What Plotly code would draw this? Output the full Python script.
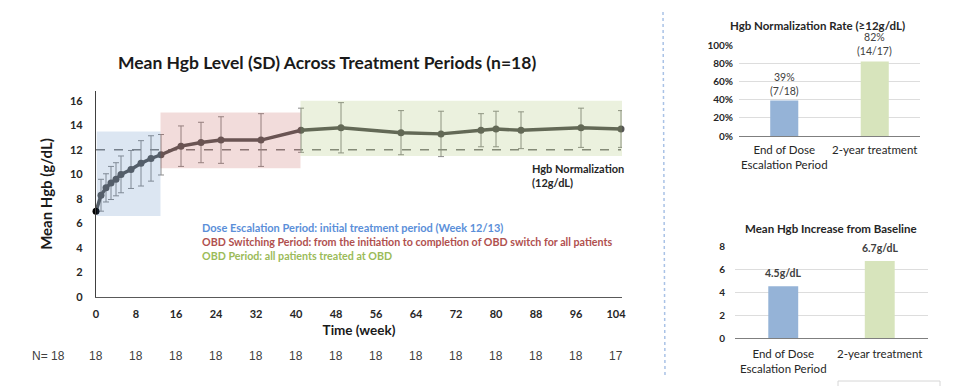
import plotly.graph_objects as go

W, H = 960, 386
FONT = "Lato"
OFF = 8  # page body margin offset

# ---------------- data ----------------
weeks = [0, 1, 2, 3, 4, 5, 7, 9, 11, 13, 17, 21, 25, 33, 41, 49, 61, 69, 77, 80, 85, 97, 105]
hgb_mean = [7.0, 8.3, 8.9, 9.3, 9.6, 10.0, 10.4, 10.9, 11.3, 11.6, 12.3, 12.6, 12.8, 12.8,
            13.6, 13.8, 13.4, 13.3, 13.6, 13.7, 13.6, 13.8, 13.7]
hgb_sd = [0.0, 1.3, 1.15, 1.35, 1.35, 1.5, 1.55, 1.85, 1.85, 1.65, 1.65, 1.65, 1.9, 2.15,
          1.8, 2.05, 1.8, 1.85, 1.35, 1.45, 1.5, 1.6, 1.5]
x_ticks = [0, 8, 16, 24, 32, 40, 48, 56, 64, 72, 80, 88, 96, 104]
n_patients = [18, 18, 18, 18, 18, 18, 18, 18, 18, 18, 18, 18, 18, 17]
normal_level = 12

period_names = ["Dose Escalation Period", "OBD Switching Period", "OBD Period"]
period_x0 = [0.15, 12.9, 40.9]
period_x1 = [12.9, 40.9, 105.9]
period_y0 = [6.6, 10.5, 11.5]
period_y1 = [13.5, 15.05, 16.0]
period_desc = ["Dose Escalation Period: initial treatment period (Week 12/13)",
               "OBD Switching Period: from the initiation to completion of OBD switch for all patients",
               "OBD Period: all patients treated at OBD"]

bar_cats = ["End of Dose<br>Escalation Period", "2-year treatment"]
norm_rate = [39, 82]
norm_labels = ["39%<br>(7/18)", "82%<br>(14/17)"]
increase = [4.5, 6.7]
increase_labels = ["4.5g/dL", "6.7g/dL"]

# ---------------- styles ----------------
period_fill = ["rgba(79,129,189,0.2)", "rgba(192,80,77,0.2)", "rgba(155,187,89,0.2)"]
period_text = ["#5B8FD9", "#B0504E", "#9BBB59"]
bar_colors = ["#95B3D7", "#D7E4BC"]


def px(x):
    return (x - OFF) / W


def py(y):
    return 1 - (y - OFF) / H


fig = go.Figure()

# normalization reference line
fig.add_trace(go.Scatter(x=[0, 105], y=[normal_level, normal_level], mode="lines",
                         line=dict(color="#7F7F7F", width=1.5, dash="dash"),
                         hoverinfo="skip", showlegend=False, xaxis="x", yaxis="y"))

# mean Hgb line with SD error bars
fig.add_trace(go.Scatter(
    x=weeks, y=hgb_mean, mode="lines+markers",
    line=dict(color="#555555", width=3.4),
    marker=dict(size=7, color=["#000000"] + ["#555555"] * (len(weeks) - 1)),
    error_y=dict(type="data", array=hgb_sd, visible=True, color="#8C8C8C",
                 thickness=1, width=3),
    showlegend=False, xaxis="x", yaxis="y", cliponaxis=False))

# right-top bar chart
fig.add_trace(go.Bar(x=bar_cats, y=norm_rate, marker=dict(color=bar_colors, line=dict(width=0)),
                     showlegend=False, xaxis="x2", yaxis="y2"))
# right-bottom bar chart
fig.add_trace(go.Bar(x=bar_cats, y=increase, marker=dict(color=bar_colors, line=dict(width=0)),
                     showlegend=False, xaxis="x3", yaxis="y3"))

shapes = []
for i in range(3):
    shapes.append(dict(type="rect", xref="x", yref="y", x0=period_x0[i], x1=period_x1[i],
                       y0=period_y0[i], y1=period_y1[i], fillcolor=period_fill[i],
                       line=dict(width=0), layer="above"))
# divider
shapes.append(dict(type="line", xref="paper", yref="paper", x0=px(663), x1=px(665),
                   y0=py(12), y1=py(377), line=dict(color="#A9C2E6", width=1.5, dash="dot")))
# small box bottom-right
shapes.append(dict(type="rect", xref="paper", yref="paper", x0=px(838), x1=px(940),
                   y0=py(381), y1=py(392), line=dict(color="#D6D6D6", width=1),
                   fillcolor="rgba(0,0,0,0)"))

ann = []
ann.append(dict(text="Mean Hgb Level (SD) Across Treatment Periods (n=18)", x=px(327), y=py(62),
                xref="paper", yref="paper", showarrow=False, xanchor="center", yanchor="middle",
                font=dict(family=FONT, size=17.5, color="#1a1a1a", weight=700)))
desc_sizes = [11, 10.7, 10.7]
for i in range(3):
    ann.append(dict(text=period_desc[i], x=px(200), y=py(227 + 14.5 * i), xref="paper", yref="paper",
                    showarrow=False, xanchor="left", yanchor="middle",
                    font=dict(family=FONT, size=desc_sizes[i], color=period_text[i], weight=700)))
ann.append(dict(text="Hgb Normalization<br>(12g/dL)", x=px(530), y=py(175), xref="paper",
                yref="paper", showarrow=False, xanchor="left", yanchor="middle", align="left",
                font=dict(family=FONT, size=11, color="#262626", weight=700)))
# N row
ann.append(dict(text="N= 18", x=px(48), y=py(356), xref="paper", yref="paper", showarrow=False,
                xanchor="center", yanchor="middle",
                font=dict(family="Liberation Sans", size=12, color="#404040")))
for t, n in zip(x_ticks, n_patients):
    ann.append(dict(text=str(n), x=t, y=py(356), xref="x", yref="paper", showarrow=False,
                    xanchor="center", yanchor="middle",
                    font=dict(family="Liberation Sans", size=12, color="#404040")))
# right chart titles
ann.append(dict(text="Hgb Normalization Rate (≥12g/dL)", x=px(817), y=py(26), xref="paper",
                yref="paper", showarrow=False, xanchor="center", yanchor="middle",
                font=dict(family=FONT, size=11.5, color="#262626", weight=700)))
ann.append(dict(text="Mean Hgb Increase from Baseline", x=px(831), y=py(228), xref="paper",
                yref="paper", showarrow=False, xanchor="center", yanchor="middle",
                font=dict(family=FONT, size=11.5, color="#262626", weight=700)))
for c, v, lab in zip(bar_cats, norm_rate, norm_labels):
    ann.append(dict(text=lab, x=c, y=v, xref="x2", yref="y2", showarrow=False, xanchor="center",
                    yanchor="bottom", yshift=2,
                    font=dict(family=FONT, size=10.5, color="#404040")))
for c, v, lab in zip(bar_cats, increase, increase_labels):
    ann.append(dict(text=lab, x=c, y=v, xref="x3", yref="y3", showarrow=False, xanchor="center",
                    yanchor="bottom", yshift=5,
                    font=dict(family=FONT, size=10.5, color="#404040", weight=700)))

tickfont_b = dict(family=FONT, size=11, color="#262626", weight=700)

fig.update_layout(
    width=W, height=H, margin=dict(l=0, r=0, t=0, b=0, autoexpand=False),
    paper_bgcolor="white", plot_bgcolor="white", showlegend=False,
    shapes=shapes, annotations=ann, bargap=0.69,
    xaxis=dict(domain=[px(96), px(622)], range=[0, 105.2], tickvals=x_ticks, automargin=False,
               showline=True, linecolor="#595959", linewidth=1.2, showgrid=False, zeroline=False,
               ticks="", tickfont=tickfont_b, ticklabelstandoff=7,
               title=dict(text="Time (week)", font=dict(family=FONT, size=13.5, color="#1a1a1a", weight=700),
                          standoff=6),
               anchor="y"),
    yaxis=dict(domain=[py(297), py(91)], range=[0, 16.8], dtick=2, showline=True, automargin=False,
               linecolor="#404040", linewidth=1.2, showgrid=False, zeroline=False, ticks="",
               tickfont=tickfont_b, ticklabelstandoff=10,
               title=dict(text="Mean Hgb (g/dL)", font=dict(family=FONT, size=15, color="#1a1a1a", weight=700),
                          standoff=13),
               anchor="x"),
    xaxis2=dict(domain=[px(739), px(920)], showline=True, linecolor="#7F7F7F", linewidth=1.2,
                showgrid=False, ticks="", anchor="y2", automargin=False, ticklabelstandoff=3,
                tickfont=dict(family=FONT, size=11.5, color="#262626")),
    yaxis2=dict(domain=[py(136), py(45)], range=[0, 100], dtick=20, ticksuffix="%",
                showgrid=True, gridcolor="#DDDDDD", gridwidth=1, zeroline=False, showline=False,
                ticks="", anchor="x2", ticklabelstandoff=5, automargin=False,
                tickfont=dict(family=FONT, size=10, color="#262626", weight=700)),
    xaxis3=dict(domain=[px(735), px(928)], showline=True, linecolor="#7F7F7F", linewidth=1.2,
                showgrid=False, ticks="", anchor="y3", automargin=False, ticklabelstandoff=5,
                tickfont=dict(family=FONT, size=11.5, color="#262626")),
    yaxis3=dict(domain=[py(338), py(246)], range=[0, 8], dtick=2, automargin=False,
                showgrid=True, gridcolor="#DDDDDD", gridwidth=1, zeroline=False, showline=False,
                ticks="", anchor="x3", ticklabelstandoff=9,
                tickfont=dict(family=FONT, size=10, color="#262626", weight=700)),
)

fig.write_html("out.html")
